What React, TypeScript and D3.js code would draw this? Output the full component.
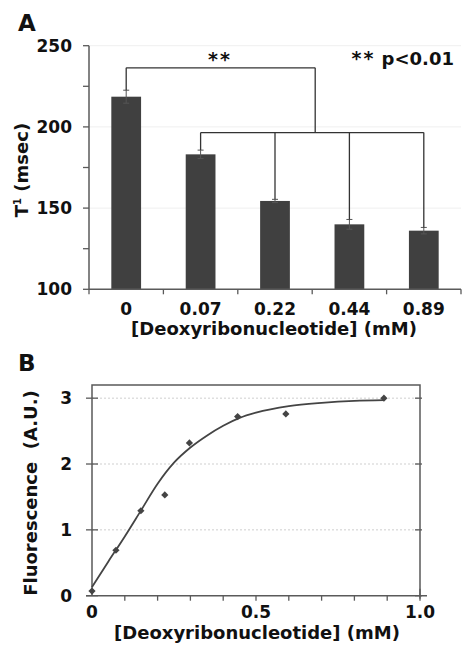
import React from 'react';
import * as d3 from 'd3';

// ---------- Panel A data ----------
const categories = ['0', '0.07', '0.22', '0.44', '0.89'];
const t1Values = [218.6, 183.1, 154.4, 140.0, 136.1];
const t1Errors = [4.0, 2.6, 1.0, 3.0, 2.0];
const t1LabelTicks = [100, 150, 200, 250];
const t1AllTicks = [100, 125, 150, 175, 200, 225, 250];
const sigTopLevel = 236.4;
const sigLowLevel = 196.5;

// ---------- Panel B data ----------
const concX = [0, 0.073, 0.149, 0.222, 0.297, 0.444, 0.591, 0.89];
const fluorY = [0.07, 0.69, 1.29, 1.53, 2.32, 2.72, 2.76, 3.0];
const fitX = [0, 0.05, 0.1, 0.15, 0.2, 0.25, 0.3, 0.35, 0.4, 0.45, 0.5, 0.6, 0.7, 0.8, 0.89];
const fitY = [0.13, 0.52, 0.9, 1.3, 1.7, 2.02, 2.25, 2.43, 2.58, 2.7, 2.78, 2.88, 2.93, 2.96, 2.97];
const fluorTicks = [0, 1, 2, 3];
const concLabelTicks = [0, 0.5, 1.0];
const concLabelText = ['0', '0.5', '1.0'];
const concMinorTicks = [0.1, 0.2, 0.3, 0.4, 0.5, 0.6, 0.7, 0.8, 0.9, 1.0];

const FONT = '"DejaVu Sans", Verdana, sans-serif';
const AXIS = '#5a5a5a';
const INK = '#111';

export default function App() {
  // Panel A scales
  const xA = d3.scaleBand<string>().domain(categories).range([89, 461]).paddingInner(0.6).paddingOuter(0.3);
  const yA = d3.scaleLinear().domain([100, 250]).range([289.3, 45.7]);
  const step = xA.step();
  const cx = (i: number) => (xA(categories[i]) as number) + xA.bandwidth() / 2;
  const midX = (cx(1) + cx(categories.length - 1)) / 2 + 3;

  // Panel B scales
  const xB = d3.scaleLinear().domain([0, 1]).range([92, 420]);
  const yB = d3.scaleLinear().domain([0, 3.2]).range([595.7, 385]);
  const fitPts = fitX.map((x, i) => [x, fitY[i]] as [number, number]);
  const line = d3.line<[number, number]>().x(d => xB(d[0])).y(d => yB(d[1])).curve(d3.curveMonotoneX);
  const diamond = d3.symbol().type(d3.symbolSquare).size(26)();

  return (
    <svg width={470} height={649} style={{ position: 'absolute', left: 0, top: 0, background: '#fff' }}
      fontFamily={FONT} fontWeight="bold">
      <rect x={0} y={0} width={470} height={649} fill="#fff" />
      {/* ================= Panel A ================= */}
      <text x={18} y={31} fontSize={23} fill={INK}>A</text>
      {/* faint grid */}
      {t1LabelTicks.filter(t => t > 100).map(t => (
        <line key={'ga' + t} x1={89} x2={461} y1={yA(t)} y2={yA(t)} stroke="#efefef" strokeWidth={1} />
      ))}
      {/* bars */}
      {categories.map((c, i) => (
        <rect key={'bar' + c} x={xA(c)} y={yA(t1Values[i])} width={xA.bandwidth()}
          height={yA(100) - yA(t1Values[i])} fill="#404040" />
      ))}
      {/* error bars */}
      {categories.map((c, i) => {
        const x = cx(i);
        const top = yA(t1Values[i] + t1Errors[i]);
        const bot = yA(t1Values[i] - t1Errors[i]);
        return (
          <g key={'err' + c} stroke="#555" strokeWidth={1}>
            <line x1={x} x2={x} y1={top} y2={bot} />
            <line x1={x - 3} x2={x + 3} y1={top} y2={top} />
            <line x1={x - 3} x2={x + 3} y1={bot} y2={bot} />
          </g>
        );
      })}
      {/* significance brackets */}
      <g stroke="#333" strokeWidth={1.3} fill="none">
        <line x1={cx(0)} x2={midX} y1={yA(sigTopLevel)} y2={yA(sigTopLevel)} />
        <line x1={cx(0)} x2={cx(0)} y1={yA(sigTopLevel)} y2={yA(t1Values[0] + t1Errors[0])} />
        <line x1={midX} x2={midX} y1={yA(sigTopLevel)} y2={yA(sigLowLevel)} />
        <line x1={cx(1)} x2={cx(categories.length - 1)} y1={yA(sigLowLevel)} y2={yA(sigLowLevel)} />
        {categories.slice(1).map((c, j) => (
          <line key={'br' + c} x1={cx(j + 1)} x2={cx(j + 1)} y1={yA(sigLowLevel)} y2={yA(t1Values[j + 1] + t1Errors[j + 1])} />
        ))}
      </g>
      <text x={220} y={66} fontSize={19} textAnchor="middle" letterSpacing={2} fill={INK}>**</text>
      <text x={454} y={65} fontSize={18} textAnchor="end" fill={INK}>
        <tspan fontSize={19} letterSpacing={2}>**</tspan> p&lt;0.01
      </text>
      {/* axes */}
      <line x1={89} x2={89} y1={yA(250)} y2={yA(100)} stroke={AXIS} strokeWidth={1.5} />
      <line x1={89} x2={461} y1={yA(100)} y2={yA(100)} stroke={AXIS} strokeWidth={1.5} />
      {t1AllTicks.map(t => (
        <line key={'ta' + t} x1={83} x2={89} y1={yA(t)} y2={yA(t)} stroke={AXIS} strokeWidth={1.3} />
      ))}
      {d3.range(categories.length + 1).map(i => (
        <line key={'xt' + i} x1={89 + i * step} x2={89 + i * step} y1={yA(100)} y2={yA(100) + 5} stroke={AXIS} strokeWidth={1.3} />
      ))}
      {t1LabelTicks.map(t => (
        <text key={'la' + t} x={72} y={yA(t)} dy="0.36em" fontSize={17} textAnchor="end" fill={INK}>{t}</text>
      ))}
      {categories.map((c, i) => (
        <text key={'xl' + c} x={cx(i)} y={315} fontSize={17} textAnchor="middle" fill={INK}>{c}</text>
      ))}
      <text x={274} y={335} fontSize={18} textAnchor="middle" fill={INK}>[Deoxyribonucleotide] (mM)</text>
      <text transform="translate(28,170) rotate(-90)" fontSize={18} textAnchor="middle" fill={INK}>
        T<tspan fontSize={10} dy="-7">1</tspan><tspan dy="7"> (msec)</tspan>
      </text>

      {/* ================= Panel B ================= */}
      <text x={18} y={371} fontSize={23} fill={INK}>B</text>
      {fluorTicks.filter(t => t > 0).map(t => (
        <line key={'gb' + t} x1={xB(0)} x2={xB(1)} y1={yB(t)} y2={yB(t)} stroke="#cfcfcf" strokeWidth={1} strokeDasharray="2,2" />
      ))}
      {/* frame */}
      <path d={`M${xB(0)},${yB(0)}V${yB(3.2)}H${xB(1)}V${yB(0)}`} fill="none" stroke={AXIS} strokeWidth={1.5} />
      <line x1={86} x2={427} y1={yB(0)} y2={yB(0)} stroke={AXIS} strokeWidth={1.5} />
      {fluorTicks.map(t => (
        <g key={'tb' + t} stroke={AXIS} strokeWidth={1.3}>
          <line x1={xB(0) - 6} x2={xB(0) + 6} y1={yB(t)} y2={yB(t)} />
          <line x1={xB(1) - 5} x2={xB(1) + 2} y1={yB(t)} y2={yB(t)} />
        </g>
      ))}
      {concMinorTicks.map(t => (
        <line key={'cm' + t} x1={xB(t)} x2={xB(t)} y1={yB(0)} y2={yB(0) + 5} stroke={AXIS} strokeWidth={1.3} />
      ))}
      <line x1={xB(1)} x2={xB(1)} y1={yB(0) - 7} y2={yB(0) + 3} stroke={AXIS} strokeWidth={1.3} />
      {fluorTicks.map(t => (
        <text key={'lb' + t} x={72} y={yB(t)} dy="0.36em" fontSize={17} textAnchor="end" fill={INK}>{t}</text>
      ))}
      {concLabelTicks.map((t, i) => (
        <text key={'cl' + t} x={xB(t)} y={617.5} fontSize={17} textAnchor="middle" fill={INK}>{concLabelText[i]}</text>
      ))}
      <text x={257} y={639} fontSize={18} textAnchor="middle" fill={INK}>[Deoxyribonucleotide] (mM)</text>
      <text transform="translate(37,493) rotate(-90)" fontSize={18} textAnchor="middle" fill={INK} xmlSpace="preserve">Fluorescence  (A.U.)</text>
      {/* fit curve */}
      <path d={line(fitPts) as string} fill="none" stroke="#444" strokeWidth={1.8} />
      {/* points */}
      {concX.map((x, i) => (
        <path key={'pt' + i} d={diamond as string} transform={`translate(${xB(x)},${yB(fluorY[i])}) rotate(45)`} fill="#444" />
      ))}
    </svg>
  );
}
